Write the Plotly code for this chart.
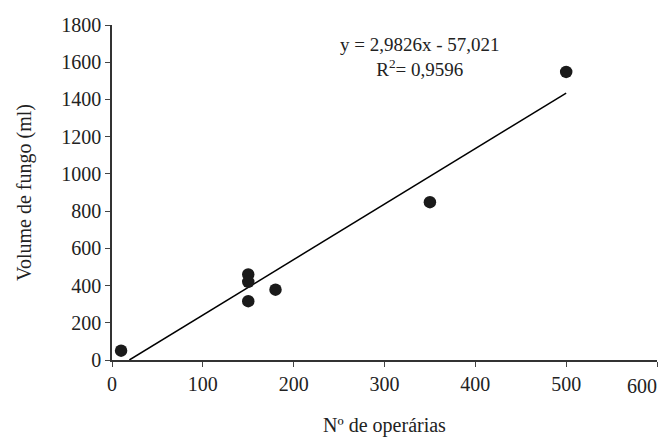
import plotly.graph_objects as go

operarias = [10, 150, 150, 150, 180, 350, 500]
volume = [50, 460, 420, 316, 378, 848, 1548]
slope = 2.9826
intercept = -57.021
fit_x = [-intercept / slope, 500]
fit_y = [slope * x + intercept for x in fit_x]

x_ticks = [0, 100, 200, 300, 400, 500, 600]
x_labels = ["0", "100", "200", "300", "400", "500", ""]
y_ticks = [0, 200, 400, 600, 800, 1000, 1200, 1400, 1600, 1800]

font = "Liberation Serif, Times New Roman, serif"

fig = go.Figure()
fig.add_trace(go.Scatter(x=fit_x, y=fit_y, mode="lines",
                         line=dict(color="black", width=1.5), showlegend=False))
fig.add_trace(go.Scatter(x=operarias, y=volume, mode="markers",
                         marker=dict(color="#1a1a1a", size=12.5), showlegend=False))

fig.add_annotation(x=339, y=1760, xref="x", yref="y", showarrow=False,
                   text="y = 2,9826x - 57,021<br>R<sup>2</sup>= 0,9596",
                   font=dict(family=font, size=19, color="#222"), align="center",
                   xanchor="center", yanchor="top")
# last x tick label, kept inside the page as in the reference
fig.add_annotation(x=600, y=0, xref="x", yref="paper", showarrow=False,
                   text=str(x_ticks[-1]), font=dict(family=font, size=20, color="#222"),
                   xanchor="right", yanchor="top", yshift=-13, xshift=2)

fig.update_layout(
    width=661, height=440,
    margin=dict(l=112, r=4, t=25, b=80),
    plot_bgcolor="white", paper_bgcolor="white",
    font=dict(family=font, size=20, color="#222"),
    xaxis=dict(range=[0, 600], tickvals=x_ticks, ticktext=x_labels,
               ticks="outside", ticklen=5, automargin=False,
               showline=True, linecolor="#333", linewidth=1.5, showgrid=False,
               zeroline=False, mirror=False,
               title=dict(text="Nº de operárias", font=dict(size=20), standoff=24)),
    yaxis=dict(range=[0, 1800], tickvals=y_ticks, ticks="outside", ticklen=5,
               automargin=False,
               showline=True, linecolor="#333", linewidth=1.5, showgrid=False,
               zeroline=False,
               title=dict(text="Volume de fungo (ml)", font=dict(size=20), standoff=24)),
)
fig.write_html("out.html", config={"displayModeBar": False},
               post_script="document.body.style.margin='0';document.body.style.overflow='hidden';")
